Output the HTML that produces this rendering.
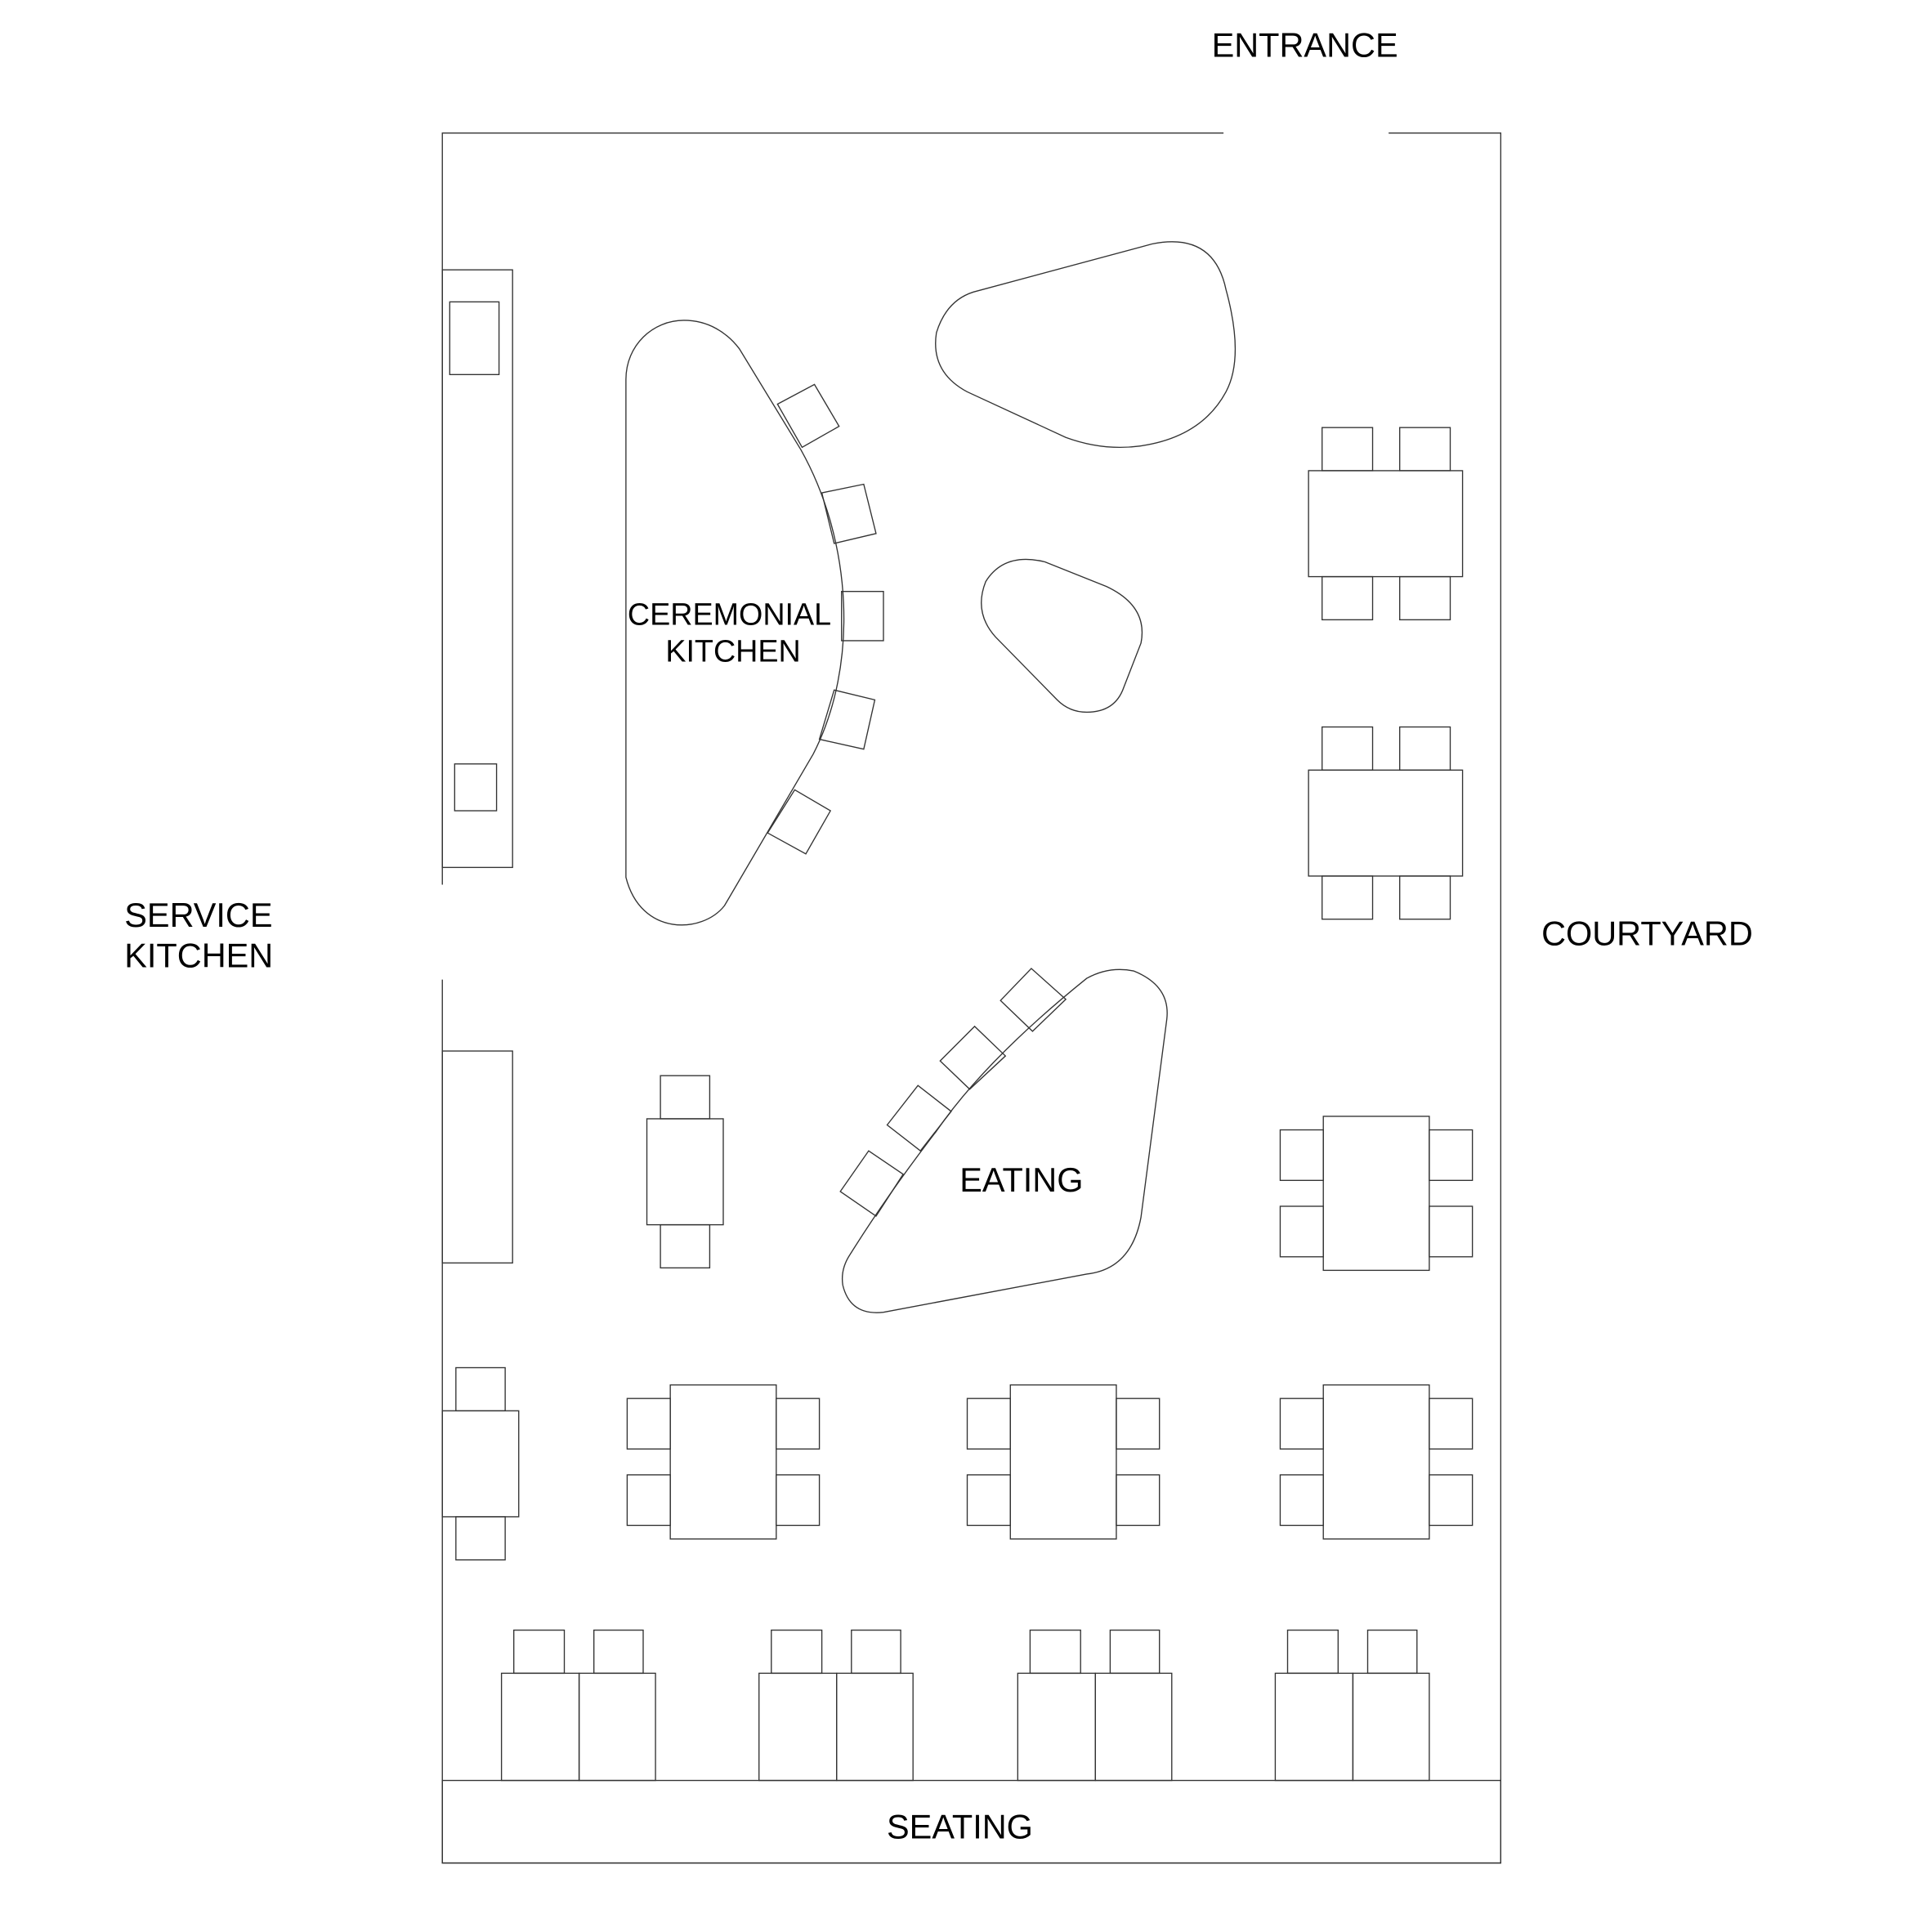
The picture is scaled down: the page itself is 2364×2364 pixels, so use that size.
<!DOCTYPE html>
<html><head><meta charset="utf-8"><style>
html,body{margin:0;padding:0;background:#fff;}
svg{display:block;}
text{font-family:"Liberation Sans",Arial,sans-serif;fill:#000;}
</style></head><body>
<svg width="2364" height="2364" viewBox="0 0 1568 1568" xmlns="http://www.w3.org/2000/svg">
<g fill="none" stroke="#333" stroke-width="0.9">
<path d="M359,718 L359,108 L993,108"/>
<path d="M1127,108 L1218,108 L1218,1512 L359,1512 L359,795"/>
<rect x="359" y="1445" width="859" height="67"/>
<rect x="359" y="219" width="57" height="485"/>
<rect x="365" y="245" width="40" height="59"/>
<rect x="369" y="620" width="34" height="38"/>
<rect x="359" y="853" width="57" height="172"/>
<rect x="359" y="1145" width="62" height="86"/>
<rect x="370" y="1110" width="40" height="35"/>
<rect x="370" y="1231" width="40" height="35"/>
<rect x="525" y="908" width="62" height="86"/>
<rect x="536" y="873" width="40" height="35"/>
<rect x="536" y="994" width="40" height="35"/>
<rect x="1062" y="382" width="125" height="86"/>
<rect x="1073" y="347" width="41" height="35"/><rect x="1136" y="347" width="41" height="35"/>
<rect x="1073" y="468" width="41" height="35"/><rect x="1136" y="468" width="41" height="35"/>
<rect x="1062" y="625" width="125" height="86"/>
<rect x="1073" y="590" width="41" height="35"/><rect x="1136" y="590" width="41" height="35"/>
<rect x="1073" y="711" width="41" height="35"/><rect x="1136" y="711" width="41" height="35"/>
<rect x="1074" y="906" width="86" height="125"/>
<rect x="1039" y="917" width="35" height="41"/><rect x="1039" y="979" width="35" height="41"/>
<rect x="1160" y="917" width="35" height="41"/><rect x="1160" y="979" width="35" height="41"/>
<rect x="544" y="1124" width="86" height="125"/>
<rect x="509" y="1135" width="35" height="41"/><rect x="509" y="1197" width="35" height="41"/>
<rect x="630" y="1135" width="35" height="41"/><rect x="630" y="1197" width="35" height="41"/>
<rect x="820" y="1124" width="86" height="125"/>
<rect x="785" y="1135" width="35" height="41"/><rect x="785" y="1197" width="35" height="41"/>
<rect x="906" y="1135" width="35" height="41"/><rect x="906" y="1197" width="35" height="41"/>
<rect x="1074" y="1124" width="86" height="125"/>
<rect x="1039" y="1135" width="35" height="41"/><rect x="1039" y="1197" width="35" height="41"/>
<rect x="1160" y="1135" width="35" height="41"/><rect x="1160" y="1197" width="35" height="41"/>
<rect x="407" y="1358" width="63" height="87"/><rect x="470" y="1358" width="62" height="87"/>
<rect x="417" y="1323" width="41" height="35"/><rect x="482" y="1323" width="40" height="35"/>
<rect x="616" y="1358" width="63" height="87"/><rect x="679" y="1358" width="62" height="87"/>
<rect x="626" y="1323" width="41" height="35"/><rect x="691" y="1323" width="40" height="35"/>
<rect x="826" y="1358" width="63" height="87"/><rect x="889" y="1358" width="62" height="87"/>
<rect x="836" y="1323" width="41" height="35"/><rect x="901" y="1323" width="40" height="35"/>
<rect x="1035" y="1358" width="63" height="87"/><rect x="1098" y="1358" width="62" height="87"/>
<rect x="1045" y="1323" width="41" height="35"/><rect x="1110" y="1323" width="40" height="35"/>
<path d="M508,308 C508,280 530,260 555,260 C575,260 590,270 600,283 L650,365 C692,440 697,540 660,612 L588,735 C570,758 520,760 508,712 Z"/>
<polygon points="631,328 661,312 681,346 651,363"/>
<polygon points="667,400 701,393 711,433 677,441"/>
<polygon points="683,480 717,480 717,520 683,520"/>
<polygon points="677,560 710,568 701,608 665,600"/>
<polygon points="645,641 674,658 654,693 623,676"/>
<path d="M790,237 L935,198 Q985,188 995,235 Q1010,290 995,318 Q975,355 925,362 Q895,366 865,355 L785,318 Q755,302 760,270 Q768,244 790,237 Z"/>
<path d="M848,456 L898,476 Q932,492 926,522 L912,558 Q905,578 882,578 Q868,578 858,568 L808,517 Q790,497 800,472 Q815,448 848,456 Z"/>
<path d="M882,794 Q900,784 920,788 Q950,800 947,827 L926,988 Q918,1030 882,1034 L717,1065 Q690,1068 684,1043 Q682,1030 690,1018 Q720,970 760,918 Q800,860 882,794 Z"/>
<polygon points="812,812 837,786 865,811 838,837"/>
<polygon points="763,861 791,833 816,857 787,884"/>
<polygon points="720,913 745,881 772,902 747,934"/>
<polygon points="682,967 705,934 733,953 711,987"/>
</g>
<g font-size="27.5">
<text x="1059" y="46" text-anchor="middle">ENTRANCE</text>
<text x="101" y="752">SERVICE</text>
<text x="101" y="785">KITCHEN</text>
<text x="1251" y="767">COURTYARD</text>
<text x="829" y="967" text-anchor="middle">EATING</text>
<text x="779" y="1492" text-anchor="middle">SEATING</text>
</g>
<g font-size="25">
<text x="592" y="507" text-anchor="middle">CEREMONIAL</text>
<text x="595" y="537" text-anchor="middle">KITCHEN</text>
</g>
</svg>
</body></html>
